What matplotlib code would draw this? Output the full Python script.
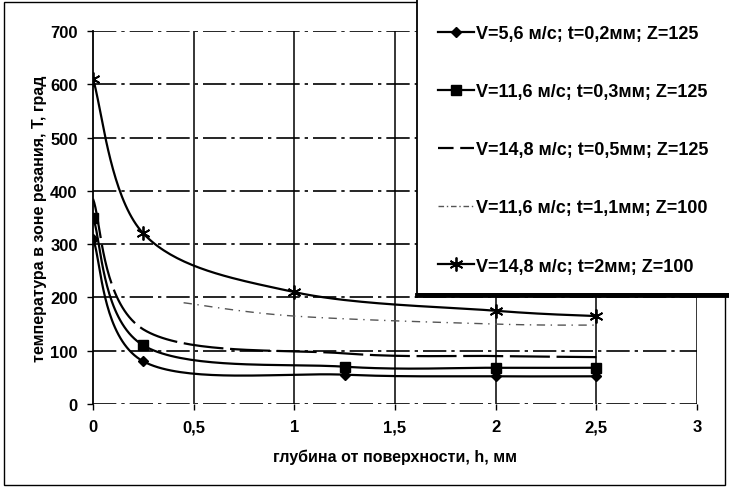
import numpy as np
import matplotlib
matplotlib.use("Agg")
import matplotlib.pyplot as plt
from matplotlib.lines import Line2D
from matplotlib.patches import Rectangle

plt.rcParams['font.family'] = ['Liberation Sans', 'DejaVu Sans']
plt.rcParams['font.weight'] = 'bold'
plt.rcParams['axes.labelweight'] = 'bold'

# data
h_a = [0, 0.25, 1.25, 2, 2.5]
h_b = [0, 0.25, 1, 2, 2.5]
h_d = [0.45, 1, 2, 2.5]
t_1 = [310, 80, 55, 52, 52]
t_2 = [350, 110, 70, 68, 68]
t_3 = [385, 140, 95, 90, 88]
t_4 = [190, 165, 150, 148]
t_5 = [610, 320, 210, 175, 165]
labels = ["V=5,6 м/с; t=0,2мм; Z=125",
          "V=11,6 м/с; t=0,3мм; Z=125",
          "V=14,8 м/с; t=0,5мм; Z=125",
          "V=11,6 м/с; t=1,1мм; Z=100",
          "V=14,8 м/с; t=2мм; Z=100"]
xticks = [0, 0.5, 1, 1.5, 2, 2.5, 3]
xtick_labels = ["0", "0,5", "1", "1,5", "2", "2,5", "3"]
yticks = [0, 100, 200, 300, 400, 500, 600, 700]


def smooth(x, y, n=40):
    # excel-like smoothed line (catmull-rom bezier)
    x = np.asarray(x, float)
    y = np.asarray(y, float)
    px = np.concatenate([[x[0]], x, [x[-1]]])
    py = np.concatenate([[y[0]], y, [y[-1]]])
    xs, ys = [], []
    t = np.linspace(0, 1, n)
    for i in range(1, len(px) - 2):
        p0 = np.array([px[i], py[i]])
        p1 = np.array([px[i + 1], py[i + 1]])
        c0 = p0 + (np.array([px[i + 1], py[i + 1]]) - np.array([px[i - 1], py[i - 1]])) / 6
        c1 = p1 - (np.array([px[i + 2], py[i + 2]]) - np.array([px[i], py[i]])) / 6
        b = ((1 - t) ** 3)[:, None] * p0 + (3 * (1 - t) ** 2 * t)[:, None] * c0 \
            + (3 * (1 - t) * t ** 2)[:, None] * c1 + (t ** 3)[:, None] * p1
        xs.extend(b[:, 0])
        ys.extend(b[:, 1])
    return xs, ys


fig = plt.figure(figsize=(7.29, 4.89), dpi=100)
ax = fig.add_axes([93 / 729, 1 - 405 / 489, (697 - 93) / 729, (405 - 32) / 489])

for yv in yticks:
    ax.axhline(yv, color='black', lw=1.2, ls=(0, (14, 3, 2, 3)), zorder=1)
for xv in xticks[1:]:
    ax.axvline(xv, color='black', lw=1.1, zorder=1)

ax.plot(*smooth(h_a, t_1), color='black', lw=1.6, zorder=3)
ax.plot(h_a, t_1, ls='none', marker='D', ms=5.5, color='black', zorder=4)
ax.plot(*smooth(h_a, t_2), color='black', lw=1.6, zorder=3)
ax.plot(h_a, t_2, ls='none', marker='s', ms=6.5, color='black', zorder=4)
ax.plot(*smooth(h_a, t_3), color='black', lw=1.6, ls=(0, (18, 3)), zorder=3)
ax.plot(*smooth(h_d, t_4), color='#555555', lw=1.0, ls=(0, (6, 4, 1, 4)), zorder=3)
ax.plot(*smooth(h_b, t_5), color='black', lw=1.6, zorder=3)
ax.plot(h_b, t_5, ls='none', marker=(6, 2, 0), ms=10, mew=1.3, color='black', zorder=4)

ax.set_xlim(0, 3)
ax.set_ylim(0, 700)
ax.set_xticks(xticks)
ax.set_xticklabels(xtick_labels)
ax.set_yticks(yticks)
for s in ['top', 'right', 'bottom']:
    ax.spines[s].set_visible(False)
ax.spines['left'].set_linewidth(1.3)
ax.tick_params(direction='out', length=4, width=1, labelsize=12, pad=7)
ax.set_xlabel("глубина от поверхности, h, мм", fontsize=11.5, labelpad=10)
ax.set_ylabel("температура в зоне резания, T, град", fontsize=11.5, labelpad=2)

# chart frame and legend box
fig.add_artist(Rectangle((4 / 729, 1 - 486 / 489), 721 / 729, 483 / 489,
                         transform=fig.transFigure, fill=False, lw=1.0, ec='black'))
fig.add_artist(Rectangle((417 / 729, 1 - 295 / 489), 320 / 729, 295 / 489,
                         transform=fig.transFigure, fc='white', lw=1.3, ec='black', zorder=5))
fig.add_artist(Line2D([417 / 729, 1], [1 - 296 / 489] * 2, transform=fig.transFigure,
                      color='black', lw=3.5, zorder=6))

handles = [
    Line2D([], [], color='black', lw=1.6, marker='D', ms=5.5),
    Line2D([], [], color='black', lw=1.6, marker='s', ms=6.5),
    Line2D([], [], color='black', lw=1.6, ls=(0, (7, 3))),
    Line2D([], [], color='#555555', lw=1.0, ls=(0, (4, 2, 1, 2))),
    Line2D([], [], color='black', lw=1.6, marker=(6, 2, 0), ms=10, mew=1.3),
]
leg = fig.legend(handles, labels, loc='upper left', bbox_to_anchor=(438 / 729, 1 - 26 / 489),
                 frameon=False, fontsize=13, labelspacing=2.28, handlelength=2.0,
                 handletextpad=0.1, borderpad=0, borderaxespad=0)
leg.set_zorder(7)

fig.savefig("out.png", dpi=100)
